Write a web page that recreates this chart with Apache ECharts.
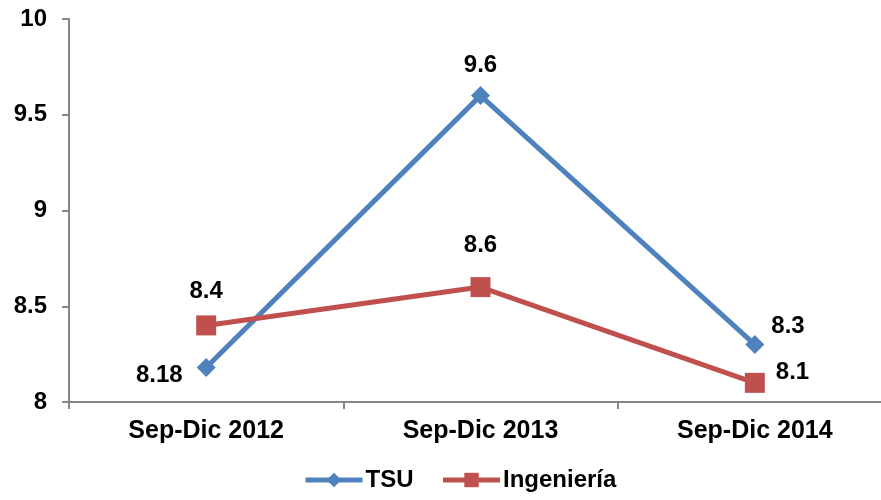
<!DOCTYPE html>
<html><head><meta charset="utf-8">
<script src="https://cdn.jsdelivr.net/npm/echarts@6/dist/echarts.min.js"></script>
<style>html,body{margin:0;padding:0;background:#fff}#c{width:881px;height:500px}</style>
</head><body><div id="c"></div>
<script>
var categories = ['Sep-Dic 2012', 'Sep-Dic 2013', 'Sep-Dic 2014'];
var tsu = [8.18, 9.6, 8.3];
var ingenieria = [8.4, 8.6, 8.1];
var yMin = 8, yMax = 10, yStep = 0.5;

var FONT = 'Liberation Sans, Arial, sans-serif';
var lbl = {show: true, fontFamily: FONT, fontWeight: 'bold', fontSize: 24, color: '#000'};
function withLabels(vals, specs) {
  return vals.map(function (v, i) {
    return {value: v, label: Object.assign({}, lbl, specs[i])};
  });
}
var chart = echarts.init(document.getElementById('c'), null, {renderer: 'canvas'});
chart.setOption({
  animation: false,
  backgroundColor: '#fff',
  grid: {left: 69, width: 823, top: 19, height: 383, containLabel: false, outerBoundsMode: 'none'},
  legend: {
    bottom: 3, left: 298,
    itemWidth: 57, itemHeight: 18, itemGap: 27,
    lineStyle: {width: 5},
    textStyle: {fontFamily: FONT, fontWeight: 'bold', fontSize: 24, color: '#000', padding: [0, 0, 0, -2]},
    data: ['TSU', 'Ingeniería']
  },
  xAxis: {
    type: 'category', data: categories, boundaryGap: true,
    axisLine: {lineStyle: {color: '#868686', width: 2}},
    axisTick: {show: true, alignWithLabel: false, length: 7, lineStyle: {color: '#868686', width: 2}},
    axisLabel: {fontFamily: FONT, fontWeight: 'bold', fontSize: 25, color: '#000', margin: 17},
    splitLine: {show: false}
  },
  yAxis: {
    type: 'value', min: yMin, max: yMax, interval: yStep,
    axisLine: {show: true, lineStyle: {color: '#868686', width: 2}},
    axisTick: {show: true, length: 7, lineStyle: {color: '#868686', width: 2}},
    axisLabel: {fontFamily: FONT, fontWeight: 'bold', fontSize: 24, color: '#000', margin: 22},
    splitLine: {show: false}
  },
  series: [
    {
      name: 'TSU', type: 'line', data: withLabels(tsu, [
        {position: 'left', distance: 14, offset: [0, 8]},
        {position: 'top', distance: 9},
        {position: 'right', distance: 7, offset: [0, -18]}
      ]),
      symbol: 'diamond', symbolSize: 19,
      lineStyle: {color: '#4F81BD', width: 5},
      itemStyle: {color: '#4F81BD'}
    },
    {
      name: 'Ingeniería', type: 'line', data: withLabels(ingenieria, [
        {position: 'top', distance: 12},
        {position: 'top', distance: 20},
        {position: 'right', distance: 11, offset: [0, -10]}
      ]),
      symbol: 'rect', symbolSize: 20,
      lineStyle: {color: '#C0504D', width: 5},
      itemStyle: {color: '#C0504D'}
    }
  ]
});
</script></body></html>
